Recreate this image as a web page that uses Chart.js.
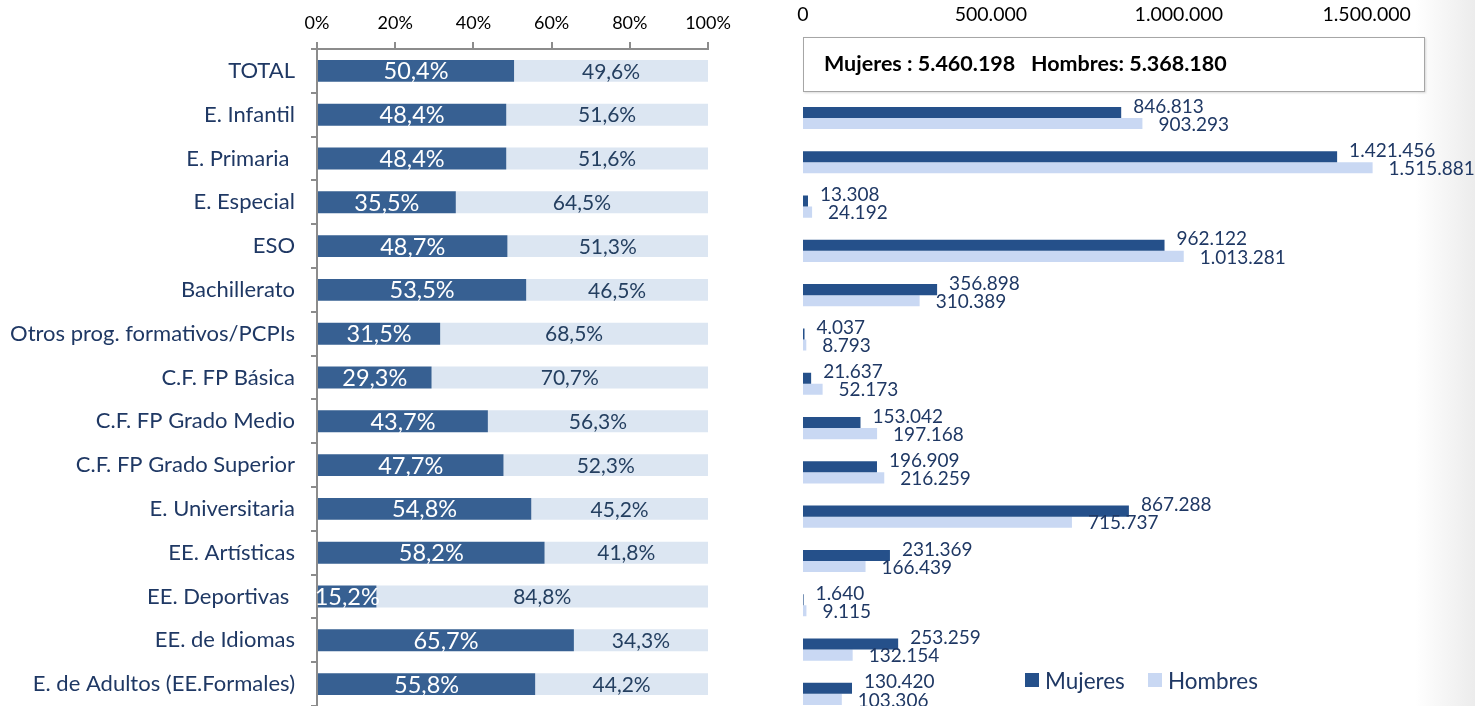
<!DOCTYPE html>
<html>
<head>
<meta charset="utf-8">
<script src="https://cdn.jsdelivr.net/npm/chart.js@4.4.1/dist/chart.umd.min.js"></script>
<style>
  html, body { margin: 0; padding: 0; }
  body {
    width: 1475px; height: 706px; overflow: hidden; position: relative;
    font-family: Lato, sans-serif;
    background: linear-gradient(to right, #ffffff 0px, #ffffff 1415px, #ececec 1475px);
  }
  #pct { position: absolute; left: 0; top: 0; }
  #abs { position: absolute; left: 740px; top: 0; }
  #totales {
    position: absolute; left: 803px; top: 37px; width: 600px; height: 53px;
    background: #fff; border: 1px solid #a6a6a6; box-shadow: 1px 1px 2px rgba(0,0,0,0.15);
    font-weight: bold; font-size: 21.5px; color: #000; line-height: 50px;
    padding-left: 20px; box-sizing: content-box; white-space: pre;
  }
  #leyenda {
    position: absolute; left: 1025px; top: 666px; font-size: 22.5px; color: #1F3864;
    display: flex; align-items: center; height: 28px;
  }
  #leyenda span.sq { display: inline-block; width: 14px; height: 14px; margin-right: 6px; }
</style>
</head>
<body>
<canvas id="pct" width="740" height="706"></canvas>
<canvas id="abs" width="735" height="716"></canvas>
<div id="totales">Mujeres : 5.460.198   Hombres: 5.368.180</div>
<div id="leyenda">
  <span class="sq" style="background:#25508A"></span><span>Mujeres</span>
  <span class="sq" style="background:#C9D8F3; margin-left:23px"></span><span>Hombres</span>
</div>
<script>
const categorias = ['TOTAL', 'E. Infantil', 'E. Primaria ', 'E. Especial', 'ESO', 'Bachillerato',
  'Otros prog. formativos/PCPIs', 'C.F. FP Básica', 'C.F. FP Grado Medio', 'C.F. FP Grado Superior',
  'E. Universitaria', 'EE. Artísticas', 'EE. Deportivas ', 'EE. de Idiomas', 'E. de Adultos (EE.Formales)'];
const pctMujeres = [50.4, 48.4, 48.4, 35.5, 48.7, 53.5, 31.5, 29.3, 43.7, 47.7, 54.8, 58.2, 15.2, 65.7, 55.8];
const pctHombres = [49.6, 51.6, 51.6, 64.5, 51.3, 46.5, 68.5, 70.7, 56.3, 52.3, 45.2, 41.8, 84.8, 34.3, 44.2];
const mujeres = [5460198, 846813, 1421456, 13308, 962122, 356898, 4037, 21637, 153042, 196909, 867288, 231369, 1640, 253259, 130420];
const hombres = [5368180, 903293, 1515881, 24192, 1013281, 310389, 8793, 52173, 197168, 216259, 715737, 166439, 9115, 132154, 103306];
const ticksPct = [0, 20, 40, 60, 80, 100];
const ticksAlumnos = [0, 500000, 1000000, 1500000];

const navy = '#1F3864';
const miles = v => String(v).replace(/\B(?=(\d{3})+(?!\d))/g, '.');
const coma = v => v.toFixed(1).replace('.', ',') + '%';

// etiquetas dentro de las barras (grafico de porcentajes)
const etiquetasPct = {
  id: 'etiquetasPct',
  afterDatasetsDraw(chart) {
    const ctx = chart.ctx;
    ctx.save();
    ctx.textAlign = 'center';
    ctx.textBaseline = 'middle';
    chart.data.datasets.forEach((ds, d) => {
      ctx.font = d === 0 ? '23.5px Lato' : '21px Lato';
      ctx.fillStyle = d === 0 ? '#ffffff' : '#243F60';
      chart.getDatasetMeta(d).data.forEach((bar, i) => {
        ctx.fillText(coma(ds.data[i]), (bar.x + bar.base) / 2, bar.y + 1);
      });
    });
    ctx.restore();
  }
};

// etiquetas al final de las barras (grafico de alumnos)
const etiquetasAbs = {
  id: 'etiquetasAbs',
  afterDatasetsDraw(chart) {
    const ctx = chart.ctx;
    ctx.save();
    ctx.textAlign = 'left';
    ctx.textBaseline = 'middle';
    ctx.font = '19px Lato';
    ctx.fillStyle = navy;
    chart.data.datasets.forEach((ds, d) => {
      chart.getDatasetMeta(d).data.forEach((bar, i) => {
        if (i === 0) return; // el total va en el recuadro
        const dx = d === 0 ? 12 : 16;
        const dy = d === 0 ? -6 : 1;
        ctx.fillText(miles(ds.data[i]), bar.x + dx, bar.y + dy);
      });
    });
    ctx.restore();
  }
};

new Chart(document.getElementById('pct'), {
  type: 'bar',
  data: {
    labels: categorias,
    datasets: [
      { label: 'Mujeres', data: pctMujeres, backgroundColor: '#376092' },
      { label: 'Hombres', data: pctHombres, backgroundColor: '#DCE6F2' }
    ]
  },
  options: {
    indexAxis: 'y',
    responsive: false,
    animation: false,
    layout: { padding: { left: 0, right: 32, top: 0, bottom: 0 } },
    datasets: { bar: { categoryPercentage: 1, barPercentage: 0.5 } },
    plugins: { legend: { display: false }, tooltip: { enabled: false } },
    scales: {
      x: {
        position: 'top', stacked: true, min: 0, max: 100,
        afterBuildTicks: s => { s.ticks = ticksPct.map(v => ({ value: v })); },
        afterFit: s => { s.height = 49; },
        ticks: { callback: v => v + '%', font: { family: 'Lato', size: 18 }, color: '#000', padding: 8 },
        grid: { drawOnChartArea: false, tickLength: 7, color: '#8c8c8c', lineWidth: 2 },
        border: { color: '#8c8c8c', width: 2 }
      },
      y: {
        stacked: true,
        afterFit: s => { s.width = 317; s.paddingTop = 0; s.paddingBottom = 0; },
        ticks: { font: { family: 'Lato', size: 22 }, color: navy, padding: 16 },
        grid: { drawOnChartArea: false, tickLength: 6, color: '#8c8c8c', lineWidth: 2 },
        border: { color: '#8c8c8c', width: 2 }
      }
    }
  },
  plugins: [etiquetasPct]
});

new Chart(document.getElementById('abs'), {
  type: 'bar',
  data: {
    labels: categorias,
    datasets: [
      { label: 'Mujeres', data: mujeres, backgroundColor: '#25508A' },
      { label: 'Hombres', data: hombres, backgroundColor: '#C9D8F3' }
    ]
  },
  options: {
    indexAxis: 'y',
    responsive: false,
    animation: false,
    layout: { padding: { left: 63, right: 52, top: 0, bottom: 0 } },
    datasets: { bar: { categoryPercentage: 0.5, barPercentage: 1 } },
    plugins: { legend: { display: false }, tooltip: { enabled: false } },
    scales: {
      x: {
        position: 'top', min: 0, max: 1650000,
        afterBuildTicks: s => { s.ticks = ticksAlumnos.map(v => ({ value: v })); },
        afterFit: s => { s.height = 51.5; },
        ticks: { callback: v => miles(v), font: { family: 'Lato', size: 19.5 }, color: '#000', padding: 17 },
        grid: { display: false },
        border: { display: false }
      },
      y: { display: false }
    }
  },
  plugins: [etiquetasAbs]
});
</script>
</body>
</html>
